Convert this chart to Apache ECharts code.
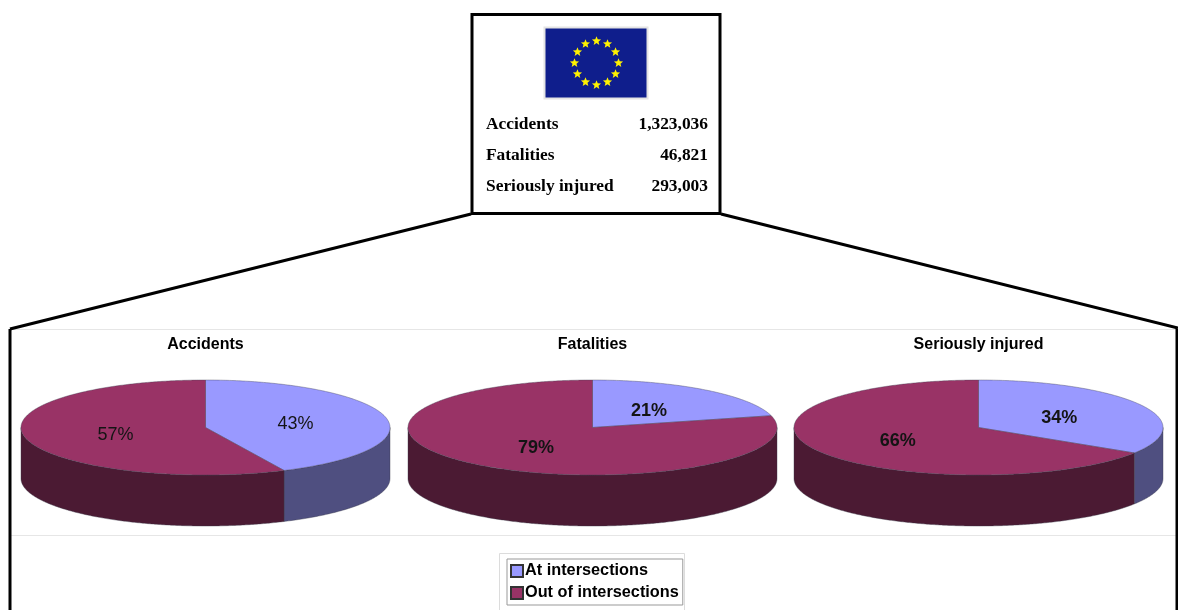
<!DOCTYPE html>
<html><head><meta charset="utf-8">
<style>html,body{margin:0;padding:0;background:#fff}#c{width:1178px;height:610px}</style>
<script src="https://cdn.jsdelivr.net/npm/echarts@6/dist/echarts.min.js"></script>
</head><body><div id="c"></div>
<script>
const chartTitles = ['Accidents', 'Fatalities', 'Seriously injured'];
const categories = ['At intersections', 'Out of intersections'];
const atIntersections = [43, 21, 34];
const outOfIntersections = [57, 79, 66];
const summaryLabels = ['Accidents', 'Fatalities', 'Seriously injured'];
const summaryValues = ['1,323,036', '46,821', '293,003'];

const topColors = ['#9999FF', '#993366'];
const sideColors = ['#4F4F80', '#4B1A33'];
const pieLeft = [21, 408, 794];
const pieWidth = 369, pieTop = 380, pieHeight = 95, depthUnits = 1.074;
const labelWeights = [['normal', 'normal'], ['bold', 'bold'], ['bold', 'bold']];

function renderSlice(params, api) {
  const start = api.value(0) / 100 * 2 * Math.PI;
  const end = (api.value(0) + api.value(1)) / 100 * 2 * Math.PI;
  const cat = api.value(2), pie = api.value(3);
  const at = (t, d) => api.coord([Math.sin(t), Math.cos(t) - (d || 0)]);
  const arc = (a, b, d) => {
    const pts = [], n = Math.max(2, Math.ceil((b - a) / 0.01));
    for (let i = 0; i <= n; i++) pts.push(at(a + (b - a) * i / n, d));
    return pts;
  };
  const children = [];
  const s0 = Math.max(start, Math.PI / 2), s1 = Math.min(end, 1.5 * Math.PI);
  if (s1 > s0) {
    children.push({
      type: 'polygon',
      shape: { points: arc(s0, s1, 0).concat(arc(s0, s1, depthUnits).reverse()) },
      style: { fill: sideColors[cat], stroke: '#3a3a4a', lineWidth: 0.4 }
    });
  }
  children.push({
    type: 'polygon',
    shape: { points: [api.coord([0, 0])].concat(arc(start, end, 0)) },
    style: { fill: topColors[cat], stroke: '#444455', lineWidth: 0.4 }
  });
  const mid = (start + end) / 2, lp = api.coord([0.5 * Math.sin(mid), 0.5 * Math.cos(mid)]);
  children.push({
    type: 'text', x: lp[0], y: lp[1] + 2,
    style: {
      text: api.value(1) + '%', textAlign: 'center', textVerticalAlign: 'middle',
      font: labelWeights[pie][cat] + ' 18px "Liberation Sans"', fill: '#141414'
    }
  });
  return { type: 'group', children };
}

const grids = pieLeft.map(l => ({ left: l, top: pieTop, width: pieWidth, height: pieHeight, show: false }));
const xAxes = pieLeft.map((_, i) => ({ type: 'value', gridIndex: i, min: -1, max: 1, show: false }));
const yAxes = pieLeft.map((_, i) => ({ type: 'value', gridIndex: i, min: -1, max: 1, show: false }));

const series = [];
chartTitles.forEach((_, i) => {
  const a = atIntersections[i], o = outOfIntersections[i];
  [[0, a], [a, o]].forEach((row, c) => series.push({
    type: 'custom', name: categories[c], xAxisIndex: i, yAxisIndex: i,
    renderItem: renderSlice, clip: false, silent: true,
    itemStyle: { color: topColors[c], borderColor: '#333', borderWidth: 1 },
    dimensions: ['start', 'value', 'cat', 'pie'],
    encode: { x: 0, y: 1 },
    data: [[row[0], row[1], c, i]]
  }));
});

const ink = '#000';
const lines = [
  [[471, 214], [10, 329]], [[721, 214], [1178, 328]],
  [[10, 329], [10, 610]], [[1177, 329], [1177, 610]]
];
const graphic = [];
[[10, 329.5, 1178, 329.5], [10, 535.5, 1178, 535.5]].forEach(p => graphic.push({
  type: 'line', shape: { x1: p[0], y1: p[1], x2: p[2], y2: p[3] }, style: { stroke: '#e6e6e6', lineWidth: 1 }, z: 1
}));
lines.forEach(l => graphic.push({
  type: 'line', shape: { x1: l[0][0], y1: l[0][1], x2: l[1][0], y2: l[1][1] },
  style: { stroke: ink, lineWidth: 3 }, z: 5
}));
graphic.push({ type: 'rect', shape: { x: 472, y: 14.5, width: 248, height: 199 }, style: { fill: '#fff', stroke: ink, lineWidth: 3 }, z: 4 });
graphic.push({ type: 'rect', shape: { x: 544.5, y: 27.5, width: 103, height: 71 }, style: { fill: '#0F1E8C', stroke: '#e4e4e4', lineWidth: 2 }, z: 5 });
for (let k = 0; k < 12; k++) {
  const a = k / 12 * 2 * Math.PI, cx = 596.5 + 22 * Math.sin(a), cy = 63 - 22 * Math.cos(a), pts = [];
  for (let j = 0; j < 10; j++) {
    const r = j % 2 ? 2.1 : 4.8, b = j * Math.PI / 5;
    pts.push([cx + r * Math.sin(b), cy - r * Math.cos(b)]);
  }
  graphic.push({ type: 'polygon', shape: { points: pts }, style: { fill: '#FFF200' }, z: 6 });
}
summaryLabels.forEach((t, i) => {
  const y = 124.5 + 31 * i;
  graphic.push({ type: 'text', x: 486, y, z: 6, style: { text: t, font: 'bold 17.4px "Liberation Serif"', fill: '#000', textAlign: 'left', textVerticalAlign: 'middle' } });
  graphic.push({ type: 'text', x: 708, y, z: 6, style: { text: summaryValues[i], font: 'bold 17.4px "Liberation Serif"', fill: '#000', textAlign: 'right', textVerticalAlign: 'middle' } });
});
graphic.push({ type: 'rect', shape: { x: 499.5, y: 553.5, width: 185, height: 60 }, style: { fill: '#fff', stroke: '#dcdcdc', lineWidth: 1 }, z: 2 });

const chart = echarts.init(document.getElementById('c'));
chart.setOption({
  animation: false,
  backgroundColor: '#fff',
  title: chartTitles.map((t, i) => ({
    text: t, left: pieLeft[i] + pieWidth / 2, top: 337, textAlign: 'center', padding: 0,
    textStyle: { fontFamily: 'Liberation Sans', fontWeight: 'bold', fontSize: 16, color: '#000' }
  })),
  legend: {
    data: categories, orient: 'vertical', left: 507, top: 559, selectedMode: false,
    icon: 'rect', itemWidth: 12, itemHeight: 12, itemGap: 6,
    padding: [4, 4, 4, 3], borderColor: '#999', borderWidth: 1, backgroundColor: '#fff',
    textStyle: { fontFamily: 'Liberation Sans', fontWeight: 'bold', fontSize: 16.3, color: '#000', padding: [3, 0, 0, -3] }
  },
  grid: grids, xAxis: xAxes, yAxis: yAxes, series, graphic
});
</script></body></html>
